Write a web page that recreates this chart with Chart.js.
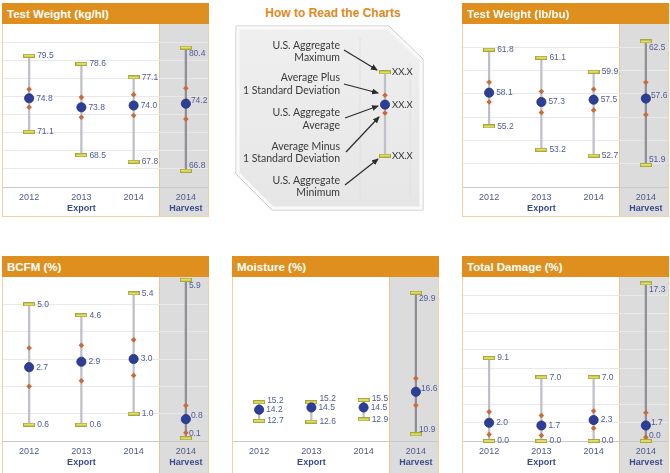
<!DOCTYPE html>
<html>
<head>
<meta charset="utf-8">
<script src="https://cdn.jsdelivr.net/npm/chart.js@4.4.0/dist/chart.umd.min.js"></script>
<style>
body { margin: 0; width: 670px; height: 473px; position: relative; overflow: hidden; background: #fff; font-family: "Liberation Sans", Arial, sans-serif; }
.panel { position: absolute; width: 207px; }
.hdr { height: 21px; background: #df8f1d; color: #fff; font-weight: bold; font-size: 11.5px; line-height: 22px; padding-left: 5px; box-sizing: border-box; }
.body { border: 1px solid #edd2a4; border-top: none; overflow: hidden; width: 205px; }
.body canvas { display: block; }
#howTitle { position: absolute; left: 210px; top: 6px; width: 246px; text-align: center; color: #e0891a; font-weight: bold; font-size: 12px; }
#howSvg { position: absolute; left: 0; top: 0; }
#guide { position: absolute; left: 357px; top: 62px; }
</style>
</head>
<body>

<div class="panel" style="left:2px;top:3px">
  <div class="hdr">Test Weight (kg/hl)</div>
  <div class="body"><canvas id="twKg" width="209" height="192"></canvas></div>
</div>

<div id="howTitle">How to Read the Charts</div>
<svg id="howSvg" width="670" height="230">
  <defs>
    <marker id="arr" markerWidth="7" markerHeight="6" refX="6" refY="3" orient="auto" markerUnits="userSpaceOnUse">
      <path d="M0,0 L7,3 L0,6 z" fill="#2b2b2b"/>
    </marker>
    <linearGradient id="boxFill" x1="0" y1="0" x2="0" y2="1">
      <stop offset="0" stop-color="#efefef"/>
      <stop offset="1" stop-color="#e6e6e6"/>
    </linearGradient>
  </defs>
  <polygon points="236,26 389,26 423,59 423,210 272,210 236,174" fill="none" stroke="#c6c6c6" stroke-width="1"/>
  <polygon points="238,28 388,28 421,60 421,208 273,208 238,173" fill="url(#boxFill)" stroke="#fafafa" stroke-width="3"/>
  <line x1="360" y1="38" x2="360" y2="198" stroke="#e0e0e0"/>
  <line x1="410" y1="62" x2="410" y2="198" stroke="#e0e0e0"/>
  <g font-family="Lato, 'Open Sans', sans-serif" font-size="10.5" fill="#3a3a3a" text-anchor="end">
    <text x="340" y="49">U.S. Aggregate</text>
    <text x="340" y="61">Maximum</text>
    <text x="340" y="81">Average Plus</text>
    <text x="340" y="94">1 Standard Deviation</text>
    <text x="340" y="116">U.S. Aggregate</text>
    <text x="340" y="129">Average</text>
    <text x="340" y="150">Average Minus</text>
    <text x="340" y="162">1 Standard Deviation</text>
    <text x="340" y="184">U.S. Aggregate</text>
    <text x="340" y="196">Minimum</text>
  </g>
  <g stroke="#2b2b2b" stroke-width="1.2" marker-end="url(#arr)">
    <line x1="344" y1="50" x2="377" y2="70"/>
    <line x1="344" y1="84" x2="378" y2="93"/>
    <line x1="345" y1="118" x2="378" y2="106"/>
    <line x1="346" y1="152" x2="379" y2="117"/>
    <line x1="345" y1="185" x2="378" y2="159"/>
  </g>
</svg>
<canvas id="guide" width="56" height="104"></canvas>

<div class="panel" style="left:462px;top:3px">
  <div class="hdr">Test Weight (lb/bu)</div>
  <div class="body"><canvas id="twLb" width="209" height="192"></canvas></div>
</div>

<div class="panel" style="left:2px;top:256px">
  <div class="hdr">BCFM (%)</div>
  <div class="body"><canvas id="bcfm" width="209" height="199"></canvas></div>
</div>

<div class="panel" style="left:232px;top:256px">
  <div class="hdr">Moisture (%)</div>
  <div class="body"><canvas id="moist" width="209" height="199"></canvas></div>
</div>

<div class="panel" style="left:462px;top:256px">
  <div class="hdr">Total Damage (%)</div>
  <div class="body"><canvas id="dmg" width="209" height="199"></canvas></div>
</div>

<script>
// categories
const years = ['2012', '2013', '2014', '2014'];
const groups = ['Export', 'Export', 'Export', 'Harvest'];

// Test Weight (kg/hl)
const twKgMax = [79.5, 78.6, 77.1, 80.4];
const twKgPlus = [75.8, 74.9, 75.2, 75.9];
const twKgAvg = [74.8, 73.8, 74.0, 74.2];
const twKgMinus = [73.8, 72.7, 72.9, 72.5];
const twKgMin = [71.1, 68.5, 67.8, 66.8];
const twKgAxis = [65, 83, 2];

// Test Weight (lb/bu)
const twLbMax = [61.8, 61.1, 59.9, 62.5];
const twLbPlus = [59.0, 58.2, 58.4, 59.0];
const twLbAvg = [58.1, 57.3, 57.5, 57.6];
const twLbMinus = [57.3, 56.4, 56.6, 56.2];
const twLbMin = [55.2, 53.2, 52.7, 51.9];
const twLbAxis = [50, 64, 2];

// BCFM (%)
const bcfmMax = [5.0, 4.6, 5.4, 5.9];
const bcfmPlus = [3.4, 3.5, 3.7, 1.3];
const bcfmAvg = [2.7, 2.9, 3.0, 0.8];
const bcfmMinus = [2.0, 2.2, 2.4, 0.3];
const bcfmMin = [0.6, 0.6, 1.0, 0.1];
const bcfmAxis = [0, 6, 1];

// Moisture (%)
const moistMax = [15.2, 15.2, 15.5, 29.9];
const moistPlus = [14.5, 14.8, 14.8, 18.4];
const moistAvg = [14.2, 14.5, 14.5, 16.6];
const moistMinus = [13.9, 14.2, 14.2, 14.8];
const moistMin = [12.7, 12.6, 12.9, 10.9];
const moistAxis = [10, 32, 4];

// Total Damage (%)
const dmgMax = [9.1, 7.0, 7.0, 17.3];
const dmgPlus = [3.2, 2.8, 3.3, 3.1];
const dmgAvg = [2.0, 1.7, 2.3, 1.7];
const dmgMinus = [0.7, 0.6, 1.4, 0.4];
const dmgMin = [0.0, 0.0, 0.0, 0.0];
const dmgAxis = [0, 18, 2];

// "How to read" sample marker
const guideMax = [9.0];
const guidePlus = [6.8];
const guideAvg = [5.9];
const guideMinus = [5.1];
const guideMin = [1.0];

const barMark = (() => {
    const c = document.createElement('canvas');
    c.width = 12; c.height = 4;
    const g = c.getContext('2d');
    g.fillStyle = '#a9a83f';
    g.fillRect(0, 0, 12, 4);
    g.fillStyle = '#e1de62';
    g.fillRect(1, 1, 10, 2);
    return c;
})();

const harvestShade = {
    id: 'harvestShade',
    beforeDraw(chart, args, o) {
        if (!o.on) return;
        const x = chart.scales.x, n = chart.data.labels.length;
        const x0 = Math.round((x.getPixelForValue(n - 2) + x.getPixelForValue(n - 1)) / 2);
        const c = chart.ctx;
        c.save();
        c.fillStyle = '#dcdcdc';
        c.fillRect(x0, 0, chart.width - x0, chart.height);
        c.fillStyle = '#e8c793';
        c.fillRect(x0 - 1, 0, 1, chart.height);
        c.restore();
    }
};

const valueLabels = {
    id: 'valueLabels',
    afterDatasetsDraw(chart, args, o) {
        const c = chart.ctx;
        const n = chart.data.labels.length;
        c.save();
        c.font = o.font;
        c.fillStyle = o.color;
        c.textBaseline = 'middle';
        for (let i = 0; i < n; i++) {
            const last = o.harvest && i === n - 1;
            const items = o.sets.map(s => {
                const el = chart.getDatasetMeta(s.ds).data[i];
                const v = chart.data.datasets[s.ds].data[i];
                const dx = last ? s.hdx : s.dx;
                const dy = last ? s.hdy : 0;
                return { x: el.x + dx, y: el.y + dy, t: o.text || v.toFixed(1) };
            }).sort((a, b) => b.y - a.y);
            for (let k = 1; k < items.length; k++) {
                if (items[k - 1].y - items[k].y < o.gap) items[k].y = items[k - 1].y - o.gap;
            }
            items.forEach(it => c.fillText(it.t, it.x, it.y));
        }
        c.restore();
    }
};

const groupLabels = {
    id: 'groupLabels',
    afterDraw(chart, args, o) {
        if (!o.groups) return;
        const x = chart.scales.x, c = chart.ctx;
        c.save();
        c.font = 'bold 9px "Liberation Sans", Arial, sans-serif';
        c.fillStyle = '#3a4a8b';
        c.textAlign = 'center';
        c.textBaseline = 'middle';
        let start = 0;
        for (let i = 1; i <= o.groups.length; i++) {
            if (i === o.groups.length || o.groups[i] !== o.groups[start]) {
                const cx = (x.getPixelForValue(start) + x.getPixelForValue(i - 1)) / 2;
                c.fillText(o.groups[start], cx, chart.chartArea.bottom + o.dy);
                start = i;
            }
        }
        c.restore();
    }
};

function markerSets(max, plus, avg, minus, min, lastIdx) {
    const pts = { type: 'line', showLine: false, clip: false, pointHoverRadius: 0 };
    return [
        { ...pts, data: avg, pointStyle: 'circle', pointRadius: 4.6, pointBackgroundColor: '#2d3e97', pointBorderColor: '#22317a', pointBorderWidth: 0.8, order: 0 },
        { ...pts, data: max, pointStyle: barMark, pointRadius: 6, order: 1 },
        { ...pts, data: min, pointStyle: barMark, pointRadius: 6, order: 1 },
        { ...pts, data: plus, pointStyle: 'rectRot', pointRadius: 2.8, pointBackgroundColor: '#c86a3c', pointBorderWidth: 0, order: 2 },
        { ...pts, data: minus, pointStyle: 'rectRot', pointRadius: 2.8, pointBackgroundColor: '#c86a3c', pointBorderWidth: 0, order: 2 },
        {
            type: 'bar', data: min.map((v, i) => [v, max[i]]), barThickness: 1.6, borderWidth: 0, clip: false, order: 3,
            backgroundColor: ctx => ctx.dataIndex === lastIdx ? '#8f8f97' : '#bfbfc8'
        }
    ];
}

function makePanel(id, max, plus, avg, minus, min, axis, xh) {
    const [lo, hi, step] = axis;
    new Chart(document.getElementById(id), {
        type: 'bar',
        data: { labels: years, datasets: markerSets(max, plus, avg, minus, min, years.length - 1) },
        options: {
            responsive: false,
            animation: false,
            events: [],
            layout: { padding: 0, autoPadding: false },
            plugins: {
                legend: { display: false },
                tooltip: { enabled: false },
                harvestShade: { on: true },
                groupLabels: { groups: groups, dy: 22 },
                valueLabels: {
                    font: '8.5px "Liberation Sans", Arial, sans-serif',
                    color: '#4f5d98',
                    gap: 9,
                    harvest: true,
                    sets: [
                        { ds: 1, dx: 8, hdx: 3, hdy: 6 },
                        { ds: 0, dx: 7, hdx: 5, hdy: -3 },
                        { ds: 2, dx: 8, hdx: 3, hdy: -5 }
                    ]
                }
            },
            scales: {
                x: {
                    grid: { display: false, drawTicks: false },
                    border: { color: '#c9c9c9' },
                    ticks: {
                        autoSkip: false, maxRotation: 0, padding: 5,
                        color: '#4d5a86',
                        font: { family: '"Liberation Sans", Arial, sans-serif', size: 9 }
                    },
                    afterFit: s => { s.height = xh; }
                },
                y: {
                    min: lo, max: hi,
                    ticks: { display: false, stepSize: step },
                    border: { display: false },
                    grid: { color: '#e8e8e8', drawTicks: false },
                    afterBuildTicks: s => {
                        s.ticks = s.ticks.filter(t => {
                            const k = (t.value - lo) / step;
                            return Math.abs(k - Math.round(k)) < 1e-6 && t.value < hi;
                        });
                    },
                    afterFit: s => { s.width = 0; }
                }
            }
        },
        plugins: [harvestShade, valueLabels, groupLabels]
    });
}

makePanel('twKg', twKgMax, twKgPlus, twKgAvg, twKgMinus, twKgMin, twKgAxis, 29);
makePanel('twLb', twLbMax, twLbPlus, twLbAvg, twLbMinus, twLbMin, twLbAxis, 29);
makePanel('bcfm', bcfmMax, bcfmPlus, bcfmAvg, bcfmMinus, bcfmMin, bcfmAxis, 35);
makePanel('moist', moistMax, moistPlus, moistAvg, moistMinus, moistMin, moistAxis, 35);
makePanel('dmg', dmgMax, dmgPlus, dmgAvg, dmgMinus, dmgMin, dmgAxis, 35);

// legend marker for the "How to Read" box
new Chart(document.getElementById('guide'), {
    type: 'bar',
    data: { labels: [''], datasets: markerSets(guideMax, guidePlus, guideAvg, guideMinus, guideMin, -1) },
    options: {
        responsive: false,
        animation: false,
        events: [],
        layout: { padding: 0, autoPadding: false },
        plugins: {
            legend: { display: false },
            tooltip: { enabled: false },
            harvestShade: { on: false },
            groupLabels: {},
            valueLabels: {
                font: '9.5px Lato, "Liberation Sans", sans-serif',
                color: '#333',
                gap: 0,
                harvest: false,
                text: 'XX.X',
                sets: [{ ds: 1, dx: 7 }, { ds: 0, dx: 7 }, { ds: 2, dx: 7 }]
            }
        },
        scales: {
            x: { display: false },
            y: { display: false, min: 0, max: 10 }
        }
    },
    plugins: [harvestShade, valueLabels, groupLabels]
});
</script>
</body>
</html>
